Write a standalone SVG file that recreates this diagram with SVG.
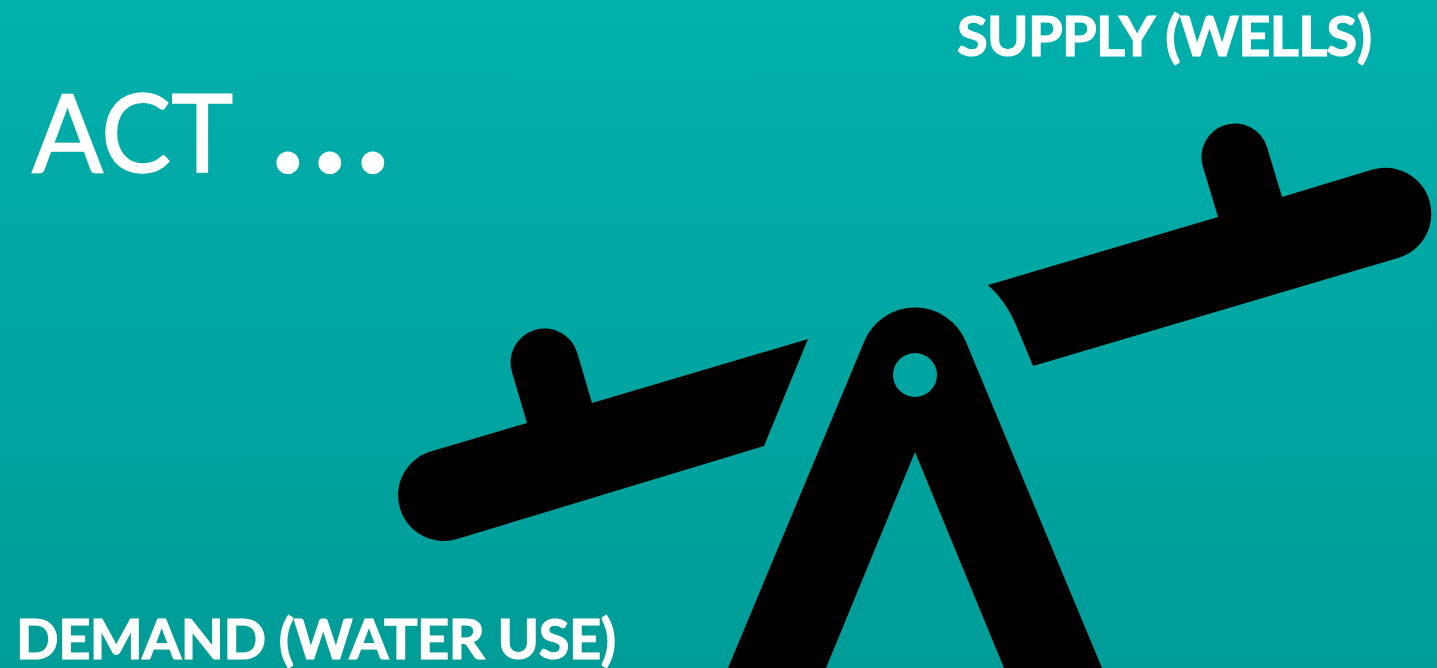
<svg xmlns="http://www.w3.org/2000/svg" width="1437" height="668" viewBox="0 0 1437 668">
<defs><linearGradient id="bg" x1="0" y1="0" x2="0" y2="1"><stop offset="0" stop-color="#00b0ac"/><stop offset="1" stop-color="#009c98"/></linearGradient></defs>
<style>.b{font-family:Lato,"Open Sans",sans-serif;font-weight:700;font-size:56px;fill:#fff;stroke:#fff;stroke-width:1.2px}.a{font-family:Lato,"Liberation Sans",sans-serif;fill:#fff}</style>
<rect width="1437" height="668" fill="url(#bg)"/>
<g id="seesaw" fill="#000">
<path id="stand" fill-rule="evenodd" d="M728 668L864 342A55 55 0 0 1 966 342L1102 668H1004L915 452L826 668ZM893 375a22 22 0 1 0 44 0a22 22 0 1 0 -44 0Z"/>
<path id="beam-right" d="M988 285L1218 217L1203 167A33.500 33.500 0 0 1 1267 147L1282 197L1372.500 169.500A40 40 0 0 1 1398 258L1033 366L1016 325Q1006 301 988 285Z"/>
<path id="beam-left" d="M808 339L592 403L577.100 352.500A34 34 0 0 0 512 372.300L527 423L430.500 451.500A45 45 0 0 0 457 539L764 446Z"/>
</g>
<text class="a" y="172" font-size="108"><tspan x="32" textLength="198" lengthAdjust="spacingAndGlyphs" stroke="#fff" stroke-width="1.500">ACT</tspan><tspan> </tspan><tspan x="270" y="173" font-size="150" font-weight="700">.</tspan><tspan x="312" y="173" font-size="150" font-weight="700">.</tspan><tspan x="355" y="173" font-size="150" font-weight="700">.</tspan></text>
<text class="b" x="957" y="56" textLength="415">SUPPLY (WELLS)</text>
<text class="b" x="16" y="659" textLength="600">DEMAND (WATER USE)</text>
</svg>
